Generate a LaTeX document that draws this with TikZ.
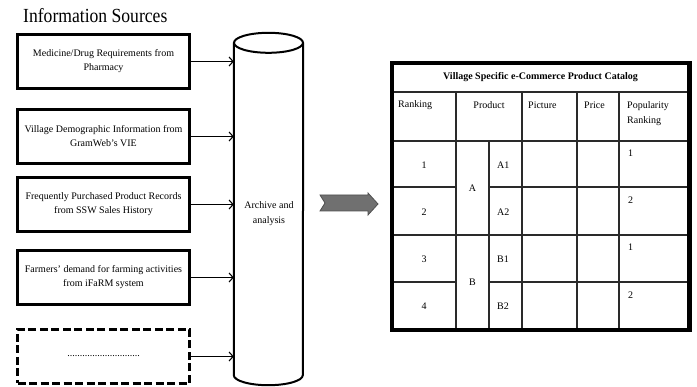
\documentclass[tikz,border=0pt]{standalone}
\usepackage{fontspec}
\setmainfont{Liberation Serif}
\newfontfamily\headfont{Liberation Serif}[FakeStretch=0.88]
\usetikzlibrary{positioning,arrows.meta}
\definecolor{arrowgray}{HTML}{707070}
\definecolor{arrowedge}{HTML}{505050}
\definecolor{rulegray}{HTML}{2A2A2A}

\begin{document}
\begin{tikzpicture}[x=1pt, y=-1pt, node distance=18pt,
	source/.style={draw, line width=3pt, minimum width=172pt, minimum height=54pt, inner sep=0pt, align=center, font=\fontsize{10}{14}\selectfont},
	feed/.style={-{Straight Barb[length=4pt,width=9pt]}, line width=1.1pt},
	rule/.style={draw=rulegray, line width=1.1pt},
	cell/.style={inner sep=0pt, font=\fontsize{10}{15}\selectfont}]
	\useasboundingbox (0,0) rectangle (697,387);

	% sources
	\node[anchor=base west, inner sep=0pt, font=\headfont\fontsize{20}{24}\selectfont] (heading) at (23,23) {Information Sources};
	\node[source] (s1) at (103.5,61.5) {Medicine/Drug Requirements from\\Pharmacy};
	\node[source, below=18pt of s1] (s2) {Village Demographic Information from\\GramWeb's VIE};
	\node[source, below=11pt of s2] (s3) {Frequently Purchased Product Records\\from SSW Sales History};
	\node[source, below=16pt of s3] (s4) {Farmers' demand for farming activities\\from iFaRM system};
	\node[source, dash pattern=on 8pt off 3.5pt, below=22pt of s4] (s5) {.............................};

	% archive cylinder
	\node[minimum width=69pt, minimum height=332pt, inner sep=0pt] (store) at (268.5,209) {};
	\draw[line width=2pt] (store.north west) -- (store.south west)
		arc[start angle=180, end angle=360, x radius=34.5pt, y radius=10pt] -- (store.north east);
	\draw[line width=2pt] (store.north) ellipse[x radius=34.5pt, y radius=10pt];
	\node[align=center, font=\fontsize{10}{15}\selectfont] (archive) at (269,214) {Archive and\\analysis};

	\draw[feed] (s1.east) -- (s1.east -| store.west);
	\draw[feed] (s2.east) -- (s2.east -| store.west);
	\draw[feed] (s3.east) -- (s3.east -| store.west);
	\draw[feed] (s4.east) -- (s4.east -| store.west);
	\draw[feed] (s5.east) -- (s5.east -| store.west);

	% block arrow
	\filldraw[fill=arrowgray, draw=arrowedge, line width=0.8pt]
		(320,195) -- (368,195) -- (368,193) -- (378,204) -- (368,215) -- (368,211) -- (320,211) -- (325,203) -- cycle;

	% catalog table
	\draw[rule] (392,92) -- (689.5,92);
	\draw[rule] (392,141) -- (689.5,141);
	\draw[rule] (392,235) -- (689.5,235);
	\draw[rule] (392,187) -- (456,187) (489,187) -- (689.5,187);
	\draw[rule] (392,282) -- (456,282) (489,282) -- (689.5,282);
	\draw[rule] (456,92) -- (456,330);
	\draw[rule] (489,141) -- (489,330);
	\draw[rule] (522,92) -- (522,330);
	\draw[rule] (577,92) -- (577,330);
	\draw[rule] (619,92) -- (619,330);
	\draw[line width=4.5pt] (392,63) rectangle (689.5,330);

	\node[cell, font=\bfseries\fontsize{10}{12}\selectfont] (catalog) at (540.5,77) {Village Specific e-Commerce Product Catalog};
	\node[cell, anchor=west] (hrank) at (398,105) {Ranking};
	\node[cell] (hprod) at (489,105) {Product};
	\node[cell, anchor=west] (hpic) at (528,105) {Picture};
	\node[cell, anchor=west] (hprice) at (584,105) {Price};
	\node[cell, anchor=north west, align=left] (hpop) at (627,101) {Popularity\\Ranking};

	\node[cell] (r1) at (424,165) {1};
	\node[cell] (r2) at (424,212) {2};
	\node[cell] (r3) at (424,259) {3};
	\node[cell] (r4) at (424,306) {4};
	\node[cell] (pa) at (472.5,188) {A};
	\node[cell] (pb) at (472.5,282) {B};
	\node[cell, anchor=west] (a1) at (497,165) {A1};
	\node[cell, anchor=west] (a2) at (497,212) {A2};
	\node[cell, anchor=west] (b1) at (497,259) {B1};
	\node[cell, anchor=west] (b2) at (497,306) {B2};
	\node[cell, anchor=west] (p1) at (628,153) {1};
	\node[cell, anchor=west] (p2) at (628,200) {2};
	\node[cell, anchor=west] (p3) at (628,247) {1};
	\node[cell, anchor=west] (p4) at (628,295) {2};
\end{tikzpicture}
\end{document}
